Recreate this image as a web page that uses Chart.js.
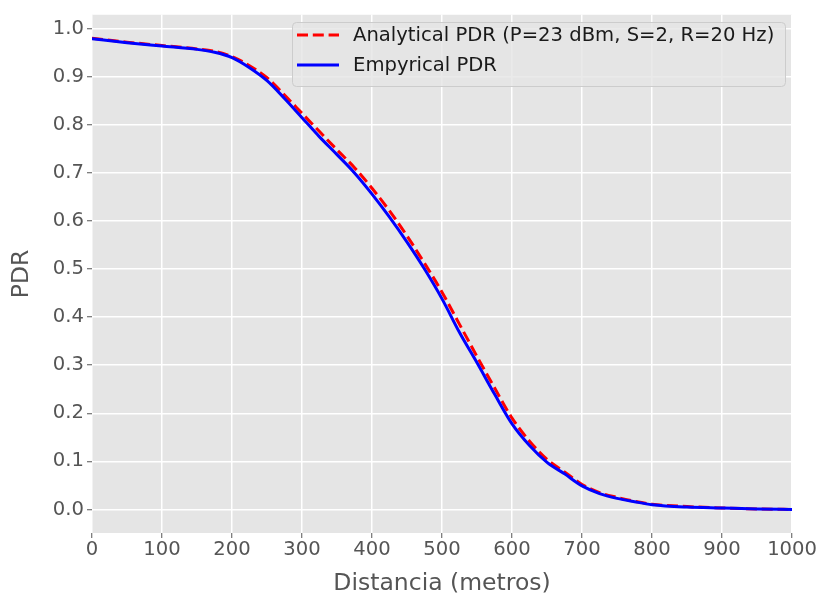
<!DOCTYPE html>
<html>
<head>
<meta charset="utf-8">
<script src="https://cdn.jsdelivr.net/npm/chart.js@4.4.1/dist/chart.umd.min.js"></script>
<style>
  body { margin: 0; background: #fff; }
</style>
</head>
<body>
<canvas id="chart" width="817" height="598"></canvas>
<script>
// distance (m) and packet delivery ratio
var distancias = [0, 50, 100, 150, 175, 200, 225, 250, 275, 300, 325, 350, 375, 400, 425, 450, 475, 500,
  525, 550, 575, 600, 625, 650, 675, 700, 725, 750, 775, 800, 850, 900, 950, 1000];
var pdrAnalitico = [0.980, 0.972, 0.965, 0.958, 0.953, 0.942, 0.923, 0.898, 0.862, 0.824, 0.786, 0.748, 0.711,
  0.668, 0.621, 0.569, 0.512, 0.452, 0.385, 0.318, 0.253, 0.190, 0.142, 0.104, 0.078, 0.052, 0.035, 0.025,
  0.017, 0.011, 0.006, 0.003, 0.001, 0.000];
var pdrEmpirico = [0.979, 0.971, 0.964, 0.957, 0.951, 0.940, 0.919, 0.892, 0.855, 0.815, 0.775, 0.738, 0.700,
  0.656, 0.608, 0.556, 0.500, 0.438, 0.368, 0.305, 0.240, 0.178, 0.133, 0.098, 0.074, 0.049, 0.033, 0.023,
  0.016, 0.010, 0.005, 0.003, 0.001, 0.000];
var etiquetas = ['Analytical PDR (P=23 dBm, S=2, R=20 Hz)', 'Empyrical PDR'];
var xTicks = [0, 100, 200, 300, 400, 500, 600, 700, 800, 900, 1000];
var yTicks = [0, 0.1, 0.2, 0.3, 0.4, 0.5, 0.6, 0.7, 0.8, 0.9, 1.0];

var toXY = function (ys) {
  return distancias.map(function (d, i) { return { x: d, y: ys[i] }; });
};

// grey ggplot-like panel behind the grid
var panelBg = {
  id: 'panelBg',
  beforeDraw: function (chart) {
    var a = chart.chartArea, ctx = chart.ctx;
    ctx.save();
    ctx.fillStyle = '#E5E5E5';
    ctx.fillRect(a.left, a.top, a.right - a.left, a.bottom - a.top);
    ctx.restore();
  }
};

// matplotlib style legend in the upper right corner
var mplLegend = {
  id: 'mplLegend',
  afterDraw: function (chart) {
    var ctx = chart.ctx;
    var x0 = 292, y0 = 22, w = 493, h = 64;
    ctx.save();
    ctx.beginPath();
    ctx.roundRect(x0 + 0.5, y0 + 0.5, w, h, 4);
    ctx.fillStyle = 'rgba(229,229,229,0.8)';
    ctx.fill();
    ctx.strokeStyle = '#CCCCCC';
    ctx.lineWidth = 1;
    ctx.stroke();
    ctx.font = '19.6px "DejaVu Sans"';
    ctx.textBaseline = 'middle';
    ctx.fillStyle = '#1a1a1a';
    chart.data.datasets.forEach(function (ds, i) {
      var yy = 36 + i * 30;
      ctx.beginPath();
      ctx.setLineDash(ds.borderDash || []);
      ctx.strokeStyle = ds.borderColor;
      ctx.lineWidth = ds.borderWidth;
      ctx.moveTo(297, yy - 1);
      ctx.lineTo(339, yy - 1);
      ctx.stroke();
      ctx.setLineDash([]);
      ctx.fillText(ds.label, 353, yy);
    });
    ctx.restore();
  }
};

var config = {
  type: 'line',
  data: {
    datasets: [{
      label: etiquetas[0],
      data: toXY(pdrAnalitico),
      borderColor: '#FF0000',
      borderWidth: 3,
      borderDash: [11, 4.8],
      pointRadius: 0,
      cubicInterpolationMode: 'monotone',
      order: 1
    }, {
      label: etiquetas[1],
      data: toXY(pdrEmpirico),
      borderColor: '#0000FF',
      borderWidth: 3,
      pointRadius: 0,
      cubicInterpolationMode: 'monotone',
      order: 0
    }]
  },
  options: {
    responsive: false,
    animation: false,
    layout: { padding: { top: 12, right: 24, left: 0, bottom: 0 } },
    plugins: {
      legend: { display: false },
      tooltip: { enabled: false }
    },
    scales: {
      x: {
        type: 'linear',
        min: 0,
        max: 1000,
        afterBuildTicks: function (s) { s.ticks = xTicks.map(function (v) { return { value: v }; }); },
        afterFit: function (s) { s.height = 65; },
        border: { display: false },
        grid: { color: '#FFFFFF', lineWidth: 1.5, tickColor: '#555555', tickLength: 5, tickWidth: 1 },
        ticks: {
          color: '#555555',
          font: { family: 'DejaVu Sans', size: 19.6 },
          padding: 0,
          maxRotation: 0,
          callback: function (v) { return String(v); }
        },
        title: {
          display: true,
          text: 'Distancia (metros)',
          color: '#555555',
          font: { family: 'DejaVu Sans', size: 23.5 },
          padding: { top: 0, bottom: 0 }
        }
      },
      y: {
        type: 'linear',
        min: -0.049,
        max: 1.029,
        afterBuildTicks: function (s) { s.ticks = yTicks.map(function (v) { return { value: v }; }); },
        afterFit: function (s) { s.width = 92; },
        border: { display: false },
        grid: { color: '#FFFFFF', lineWidth: 1.5, tickColor: '#555555', tickLength: 5, tickWidth: 1 },
        ticks: {
          color: '#555555',
          font: { family: 'DejaVu Sans', size: 19.6 },
          padding: 3,
          callback: function (v) { return v.toFixed(1); }
        },
        title: {
          display: true,
          text: 'PDR',
          color: '#555555',
          font: { family: 'DejaVu Sans', size: 23.5 },
          padding: { top: 8, bottom: 0 }
        }
      }
    }
  },
  plugins: [panelBg, mplLegend]
};

window.onload = function () {
  var ctx = document.getElementById('chart').getContext('2d');
  window.pdrChart = new Chart(ctx, config);
};
</script>
</body>
</html>
